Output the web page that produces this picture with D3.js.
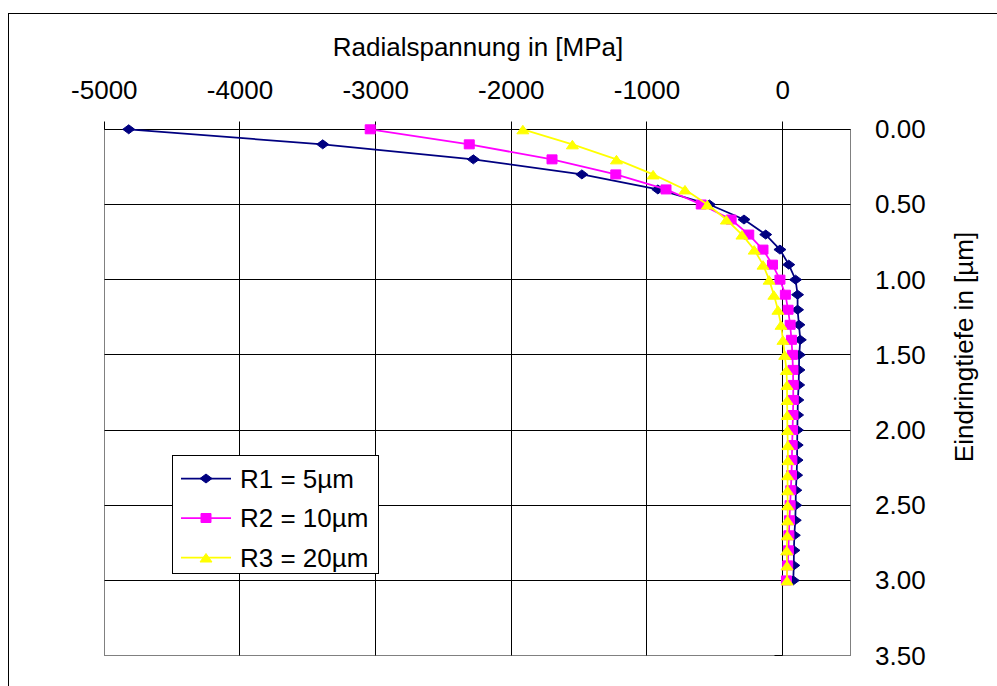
<!DOCTYPE html>
<html>
<head>
<meta charset="utf-8">
<script src="https://cdn.jsdelivr.net/npm/d3@7/dist/d3.min.js"></script>
<style>
  body { margin: 0; background: #fff; }
  text { font-family: "Liberation Sans", Arial, sans-serif; fill: #000; }
</style>
</head>
<body>
<script>
/* DATA */
const depth = [0.0, 0.1, 0.2, 0.3, 0.4, 0.5, 0.6, 0.7, 0.8, 0.9, 1.0,
               1.1, 1.2, 1.3, 1.4, 1.5, 1.6, 1.7, 1.8, 1.9, 2.0,
               2.1, 2.2, 2.3, 2.4, 2.5, 2.6, 2.7, 2.8, 2.9, 3.0];
const r1 = [-4820, -3390, -2280, -1480, -920, -540, -285, -125, -20, 45, 95,
            110, 110, 120, 130, 122, 120, 118, 112, 110, 108,
            107, 106, 103, 97, 96, 93, 86, 83, 82, 78];
const r2 = [-3040, -2310, -1700, -1230, -860, -600, -380, -250, -145, -75, -20,
            20, 40, 55, 65, 72, 76, 78, 78, 76, 73,
            70, 68, 65, 60, 55, 50, 46, 42, 37, 28];
const r3 = [-1915, -1550, -1225, -955, -720, -555, -415, -300, -210, -145, -100,
            -65, -35, -12, 2, 15, 28, 32, 33, 34, 35,
            38, 38, 36, 36, 37, 36, 34, 30, 32, 32];
const seriesNames = ["R1 = 5µm", "R2 = 10µm", "R3 = 20µm"];
const xTicks = [-5000, -4000, -3000, -2000, -1000, 0];
const yTicks = [0, 0.5, 1.0, 1.5, 2.0, 2.5, 3.0, 3.5];

/* CONSTANTS */
const WIDTH = 997;
const HEIGHT = 686;
const FONT = 26;
const crisp = v => Math.floor(v) + 0.5;

const svg = d3.select("body")
    .append("svg")
    .attr("width", WIDTH)
    .attr("height", HEIGHT);

// outer chart frame (runs past the right and bottom edge)
svg.append("rect")
    .attr("x", 8.5).attr("y", 13.5)
    .attr("width", 1000).attr("height", 700)
    .attr("fill", "#fff")
    .attr("stroke", "#000");

const x = d3.scaleLinear().domain([-5000, 500]).range([104.3, 850.5]);
const y = d3.scaleLinear().domain([0, 3.5]).range([129.3, 655.6]);

// plot area
svg.append("rect")
    .attr("x", crisp(x(-5000))).attr("y", crisp(y(0)))
    .attr("width", crisp(x(500)) - crisp(x(-5000)))
    .attr("height", crisp(y(3.5)) - crisp(y(0)))
    .attr("fill", "#fff")
    .attr("stroke", "#808080");

const grid = svg.append("g").attr("stroke", "#000").attr("stroke-width", 1);

grid.selectAll("line.v")
    .data(xTicks.filter(d => d > -5000))
    .enter().append("line")
    .attr("x1", d => crisp(x(d))).attr("x2", d => crisp(x(d)))
    .attr("y1", y(0)).attr("y2", crisp(y(3.5)));

grid.selectAll("line.h")
    .data(yTicks.filter(d => d > 0 && d < 3.5))
    .enter().append("line")
    .attr("x1", crisp(x(-5000))).attr("x2", crisp(x(500)))
    .attr("y1", d => crisp(y(d))).attr("y2", d => crisp(y(d)));

// x axis at depth 0, ticks pointing up
grid.append("line")
    .attr("x1", crisp(x(-5000))).attr("x2", crisp(x(500)))
    .attr("y1", crisp(y(0))).attr("y2", crisp(y(0)));
grid.selectAll("line.xt")
    .data(xTicks)
    .enter().append("line")
    .attr("x1", d => crisp(x(d))).attr("x2", d => crisp(x(d)))
    .attr("y1", crisp(y(0))).attr("y2", crisp(y(0)) - 8);

// y axis at 0 MPa, ticks pointing left
grid.selectAll("line.yt")
    .data(yTicks)
    .enter().append("line")
    .attr("x1", crisp(x(0)) - 8).attr("x2", crisp(x(0)))
    .attr("y1", d => crisp(y(d))).attr("y2", d => crisp(y(d)));

svg.selectAll("text.xl")
    .data(xTicks)
    .enter().append("text")
    .attr("x", d => x(d))
    .attr("y", 99)
    .attr("text-anchor", "middle")
    .attr("font-size", FONT)
    .text(d => d);

svg.selectAll("text.yl")
    .data(yTicks)
    .enter().append("text")
    .attr("x", 875)
    .attr("y", d => y(d) + 9)
    .attr("font-size", FONT)
    .text(d => d3.format(".2f")(d));

svg.append("text")
    .attr("x", 478).attr("y", 56)
    .attr("text-anchor", "middle")
    .attr("font-size", FONT)
    .text("Radialspannung in [MPa]");

svg.append("text")
    .attr("transform", "translate(973,347) rotate(-90)")
    .attr("text-anchor", "middle")
    .attr("font-size", FONT)
    .text("Eindringtiefe in [µm]");

/* SERIES */
const diamond = "M-6,0L0,-4.5L6,0L0,4.5Z";
const square = "M-5,-4.5H5V4.5H-5Z";
const triangle = "M-6,4.5L0,-4L6,4.5Z";

const series = [
  {values: r1, color: "#000080", symbol: diamond},
  {values: r2, color: "#ff00ff", symbol: square},
  {values: r3, color: "#ffff00", symbol: triangle}
];

const line = d3.line()
    .x(d => x(d[0]))
    .y(d => y(d[1]));

series.forEach(function(s) {
  const pts = s.values.map((v, i) => [v, depth[i]]);
  const g = svg.append("g");
  g.append("path")
      .attr("d", line(pts))
      .attr("fill", "none")
      .attr("stroke", s.color)
      .attr("stroke-width", 1.75);
  g.selectAll("path.m")
      .data(pts)
      .enter().append("path")
      .attr("d", s.symbol)
      .attr("transform", d => "translate(" + x(d[0]) + "," + y(d[1]) + ")")
      .attr("fill", s.color)
      .attr("stroke", s.color)
      .attr("stroke-width", 1);
});

/* LEGEND */
const legend = svg.append("g");
legend.append("rect")
    .attr("x", 172.5).attr("y", 455.5)
    .attr("width", 206).attr("height", 118)
    .attr("fill", "#fff")
    .attr("stroke", "#000");

const rows = legend.selectAll("g.row")
    .data(series)
    .enter().append("g")
    .attr("transform", (d, i) => "translate(0," + (478.5 + i * 39.5) + ")");
rows.append("line")
    .attr("x1", 181).attr("x2", 231)
    .attr("stroke", d => d.color)
    .attr("stroke-width", 1.75);
rows.append("path")
    .attr("d", d => d.symbol)
    .attr("transform", "translate(206,0)")
    .attr("fill", d => d.color)
    .attr("stroke", d => d.color)
    .attr("stroke-width", 1);
rows.append("text")
    .attr("x", 240).attr("y", 9)
    .attr("font-size", FONT)
    .text((d, i) => seriesNames[i]);
</script>
</body>
</html>
